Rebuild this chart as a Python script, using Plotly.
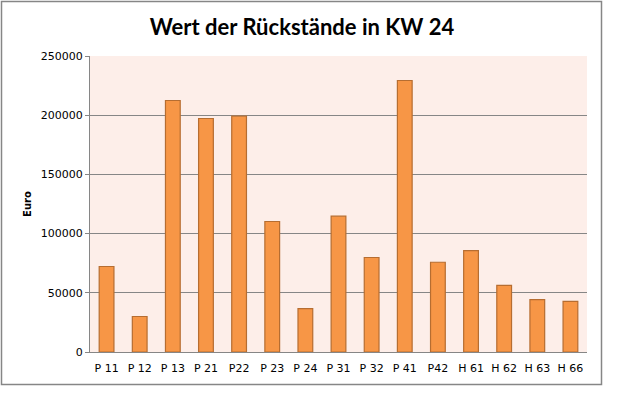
import plotly.graph_objects as go

categories = ["P 11", "P 12", "P 13", "P 21", "P22", "P 23", "P 24", "P 31",
              "P 32", "P 41", "P42", "H 61", "H 62", "H 63", "H 66"]
values = [72200, 30000, 212400, 197200, 199200, 110200, 36700, 114700,
          79800, 229300, 75800, 85700, 56200, 44300, 42700]
y_ticks = [0, 50000, 100000, 150000, 200000, 250000]

fig = go.Figure(go.Bar(
    x=categories, y=values,
    marker=dict(color="#F79646", line=dict(color="#B66D31", width=1.2)),
))

L, R, T, B = 90, 39, 56, 47
W, H = 626, 399
pw, ph = W - L - R, H - T - B

def px_x(p):
    return (p - L) / pw

def px_y(p):
    return (H - B - p) / ph

fig.update_layout(
    width=W, height=H,
    margin=dict(l=L, r=R, t=T, b=B, autoexpand=False),
    paper_bgcolor="white",
    plot_bgcolor="#FDEEE9",
    bargap=0.555,
    showlegend=False,
    title=dict(text="<b>Wert der Rückstände in KW 24</b>",
               font=dict(family="Lato", size=22, color="black"),
               x=302 / W, xref="container", xanchor="center",
               y=1 - 27 / H, yref="container", yanchor="middle",
               automargin=False),
    font=dict(family="DejaVu Sans", size=11, color="black"),
    xaxis=dict(showline=True, linecolor="#868686", linewidth=1,
               ticks="", showgrid=False, tickfont=dict(size=11),
               ticklabelstandoff=6, automargin=False),
    yaxis=dict(range=[0, 250000], tickvals=y_ticks,
               ticktext=[str(v) for v in y_ticks],
               showline=True, linecolor="#868686", linewidth=1,
               ticks="outside", ticklen=4, tickcolor="#868686",
               showgrid=True, gridcolor="#868686", gridwidth=1,
               zeroline=False, tickfont=dict(size=11), automargin=False,
               title=dict(text="<b>Euro</b>", font=dict(size=10), standoff=7)),
    shapes=[dict(type="rect", xref="paper", yref="paper",
                 x0=px_x(1.5), x1=px_x(601.5), y0=px_y(384.5), y1=px_y(1.5),
                 line=dict(color="#868686", width=1.5), layer="below")],
)

fig.write_html("out.html", config={"displayModeBar": False},
               post_script="document.body.style.margin='0';document.body.style.overflow='hidden';")
